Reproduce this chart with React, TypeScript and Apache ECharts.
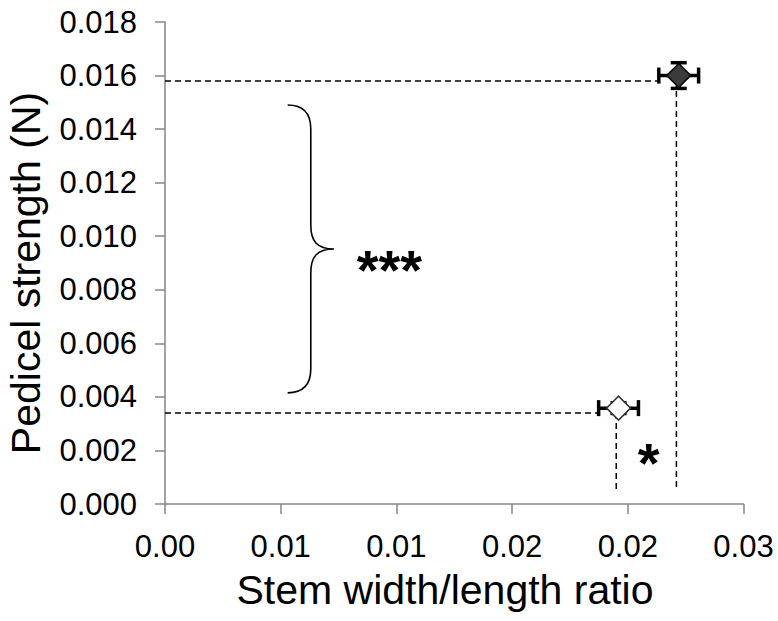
import React, { useEffect, useRef } from "react";
import * as echarts from "echarts";

// ---- data ----
const xTickLabels = ["0.00", "0.01", "0.01", "0.02", "0.02", "0.03"];
const xValues = [0.0222, 0.0196];
const yValues = [0.016, 0.00358];
const xErrors = [0.00086, 0.00086];
const yErrors = [0.00048, 0.0002];
const refLineY = [0.0158, 0.0034];
const refLineX = [0.0221, 0.0195];
const refLineBottom = [0.0005, 0.0005];
const markerFill = ["#3b3b3b", "#ffffff"];
const sigLabels = ["***", "*"];
const sigX = [0.0097, 0.0209];
const sigY = [0.0092, 0.0020];
const braceYRange = [0.00415, 0.0149];
const braceX = [0.0053, 0.0063, 0.0073];

const FONT = "'Liberation Sans', Arial, sans-serif";
const AXIS_COLOR = "#868686";

export default function App() {
  const ref = useRef<HTMLDivElement>(null);
  useEffect(() => {
    document.body.style.margin = "0";
    if (!ref.current) return;
    const chart = echarts.init(ref.current, undefined, { renderer: "svg" });

    const dashedSeries: any[] = [];
    xValues.forEach((x, i) => {
      dashedSeries.push({
        type: "line",
        data: [
          [0, refLineY[i]],
          [x - xErrors[i], refLineY[i]],
        ],
        symbol: "none",
        silent: true,
        z: 1,
        lineStyle: { color: "#000", width: 1.5, type: [6, 4] },
      });
      dashedSeries.push({
        type: "line",
        data: [
          [refLineX[i], refLineY[i]],
          [refLineX[i], refLineBottom[i]],
        ],
        symbol: "none",
        silent: true,
        z: 1,
        lineStyle: { color: "#000", width: 1.5, type: [6, 4] },
      });
    });

    chart.setOption({
      animation: false,
      grid: { left: 165, right: 34.5, top: 22, bottom: 117, containLabel: false },
      xAxis: {
        type: "value",
        min: 0,
        max: 0.025,
        interval: 0.005,
        splitLine: { show: false },
        axisLine: { show: true, onZero: false, lineStyle: { color: AXIS_COLOR, width: 1.5 } },
        axisTick: { show: true, length: 10, lineStyle: { color: AXIS_COLOR, width: 1.5 } },
        axisLabel: {
          margin: 27,
          color: "#000",
          fontSize: 31,
          fontFamily: FONT,
          formatter: (v: number) => xTickLabels[Math.round(v / 0.005)] ?? "",
        },
      },
      yAxis: {
        type: "value",
        min: 0,
        max: 0.018,
        interval: 0.002,
        splitLine: { show: false },
        axisLine: { show: true, onZero: false, lineStyle: { color: AXIS_COLOR, width: 1.5 } },
        axisTick: { show: true, length: 10, lineStyle: { color: AXIS_COLOR, width: 1.5 } },
        axisLabel: {
          margin: 28,
          color: "#000",
          fontSize: 31,
          fontFamily: FONT,
          formatter: (v: number) => v.toFixed(3),
        },
      },
      series: [
        ...dashedSeries,
        {
          type: "custom",
          z: 3,
          silent: true,
          encode: { x: 0, y: 1 },
          data: xValues.map((x, i) => [x, yValues[i], xErrors[i], yErrors[i]]),
          renderItem: (params: any, api: any) => {
            const x = api.value(0);
            const y = api.value(1);
            const ex = api.value(2);
            const ey = api.value(3);
            const l = api.coord([x - ex, y]);
            const r = api.coord([x + ex, y]);
            const t = api.coord([x, y + ey]);
            const b = api.coord([x, y - ey]);
            const cap = 8;
            const style = { stroke: "#000", lineWidth: 3.5 };
            return {
              type: "group",
              children: [
                { type: "line", shape: { x1: l[0], y1: l[1], x2: r[0], y2: r[1] }, style },
                { type: "line", shape: { x1: l[0], y1: l[1] - cap, x2: l[0], y2: l[1] + cap }, style },
                { type: "line", shape: { x1: r[0], y1: r[1] - cap, x2: r[0], y2: r[1] + cap }, style },
                { type: "line", shape: { x1: t[0], y1: t[1], x2: b[0], y2: b[1] }, style },
                { type: "line", shape: { x1: t[0] - cap, y1: t[1], x2: t[0] + cap, y2: t[1] }, style },
                { type: "line", shape: { x1: b[0] - cap, y1: b[1], x2: b[0] + cap, y2: b[1] }, style },
              ],
            };
          },
        },
        {
          type: "scatter",
          z: 5,
          symbol: "diamond",
          symbolSize: [24, 24],
          data: xValues.map((x, i) => ({
            value: [x, yValues[i]],
            itemStyle: {
              color: markerFill[i],
              opacity: 1,
              borderColor: i === 0 ? "#000" : "#333",
              borderWidth: 1.5,
            },
          })),
        },
      ],
    });

    // annotations from data coordinates
    const px = (x: number, y: number) => chart.convertToPixel({ gridIndex: 0 }, [x, y]) as number[];
    const top = px(braceX[1], braceYRange[1]);
    const bot = px(braceX[1], braceYRange[0]);
    const x0 = px(braceX[0], 0)[0];
    const xs = px(braceX[1], 0)[0];
    const xt = px(braceX[2], 0)[0];
    const T = top[1];
    const B = bot[1];
    const M = (T + B) / 2;
    const rr = 24;
    const d =
      `M${x0} ${T} C${x0 + 16} ${T} ${xs} ${T + 8} ${xs} ${T + rr} ` +
      `L${xs} ${M - rr} C${xs} ${M - 8} ${xs + 6} ${M} ${xt} ${M} ` +
      `C${xs + 6} ${M} ${xs} ${M + 8} ${xs} ${M + rr} ` +
      `L${xs} ${B - rr} C${xs} ${B - 8} ${x0 + 16} ${B} ${x0} ${B}`;
    echarts.graphic.registerShape("brace", echarts.graphic.extendPath(d, {}) as any);

    const starFont = 56;
    const graphics: any[] = [
      {
        type: "brace",
        x: 0,
        y: 0,
        silent: true,
        style: { fill: "none", stroke: "#000", lineWidth: 1.6 },
      },
      ...sigLabels.map((s, i) => {
        const p = px(sigX[i], sigY[i]);
        return {
          type: "text",
          x: p[0],
          y: p[1] + starFont * 0.22,
          silent: true,
          style: {
            text: s,
            fill: "#000",
            font: `bold ${starFont}px ${FONT}`,
            textAlign: "center",
            textVerticalAlign: "middle",
          },
        };
      }),
      {
        type: "text",
        x: 445,
        y: 590,
        silent: true,
        style: {
          text: "Stem width/length ratio",
          fill: "#000",
          font: `41px ${FONT}`,
          textAlign: "center",
          textVerticalAlign: "middle",
        },
      },
      {
        type: "text",
        x: 26,
        y: 273,
        rotation: Math.PI / 2,
        silent: true,
        style: {
          text: "Pedicel strength (N)",
          fill: "#000",
          font: `41px ${FONT}`,
          textAlign: "center",
          textVerticalAlign: "middle",
        },
      },
    ];
    chart.setOption({ graphic: graphics });

    return () => chart.dispose();
  }, []);
  return <div ref={ref} style={{ width: 778, height: 621 }} />;
}
